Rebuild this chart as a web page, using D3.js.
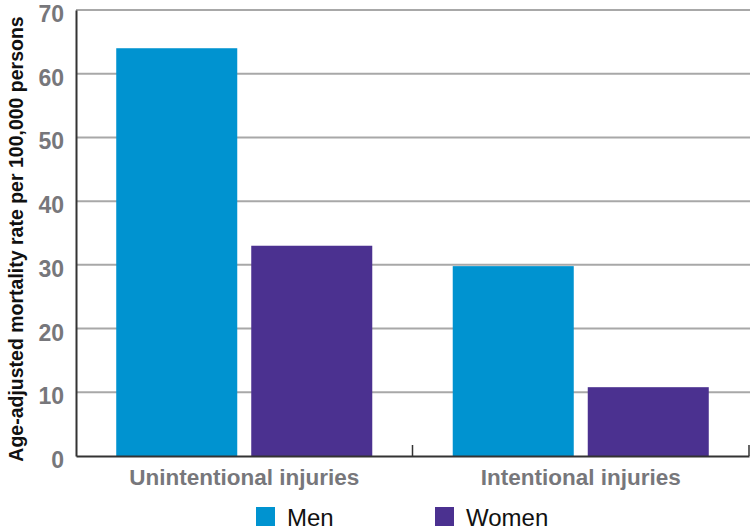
<!DOCTYPE html>
<html><head><meta charset="utf-8">
<script src="https://cdn.jsdelivr.net/npm/d3@7"></script>
<style>body{margin:0;background:#fff}svg{display:block}</style>
</head><body>
<script>
const categories = ["Unintentional injuries", "Intentional injuries"];
const seriesNames = ["Men", "Women"];
const men = [64, 29.8];
const women = [33, 10.8];
const yTicks = [0, 10, 20, 30, 40, 50, 60, 70];
const colors = ["#0093d0", "#4b3190"];

const W = 750, H = 530;
const m = {left: 76, right: 1, top: 10, bottom: 74};
const svg = d3.select("body").append("svg").attr("width", W).attr("height", H);

const x0 = d3.scaleBand().domain(categories).range([m.left, W - m.right]).paddingInner(0).paddingOuter(0);
const x1 = d3.scaleBand().domain(seriesNames).range([0, x0.bandwidth()]).paddingInner(0.1037).paddingOuter(0.298);
const y = d3.scaleLinear().domain([0, 70]).range([H - m.bottom, m.top]);

// gridlines
svg.append("g").selectAll("line").data(yTicks.filter(d => d > 0)).join("line")
  .attr("x1", m.left).attr("x2", W).attr("y1", d => y(d)).attr("y2", d => y(d))
  .attr("stroke", "#a8a8a8").attr("stroke-width", 2);

// bars
const data = categories.map((c, i) => ({c, vals: [men[i], women[i]]}));
const g = svg.append("g").selectAll("g").data(data).join("g")
  .attr("transform", d => `translate(${x0(d.c)},0)`);
g.selectAll("rect").data(d => d.vals.map((v, j) => ({s: seriesNames[j], v, j}))).join("rect")
  .attr("x", d => x1(d.s)).attr("width", x1.bandwidth())
  .attr("y", d => y(d.v)).attr("height", d => y(0) - y(d.v))
  .attr("fill", d => colors[d.j]);

// y axis
const ya = svg.append("g").attr("transform", `translate(${m.left},0)`)
  .call(d3.axisLeft(y).tickValues(yTicks).tickSize(0).tickPadding(12));
ya.select(".domain").attr("stroke", "#333").attr("stroke-width", 2);
ya.selectAll("text").attr("font-family", "Liberation Sans, Arial, sans-serif")
  .attr("font-weight", "bold").attr("font-size", 23).attr("fill", "#77777b").attr("dy", "0.5em");

// x axis
const xa = svg.append("g").attr("transform", `translate(0,${y(0)})`)
  .call(d3.axisBottom(x0).tickSize(0).tickPadding(11));
xa.select(".domain").attr("stroke", "#333").attr("stroke-width", 2);
xa.selectAll("text").attr("font-family", "Liberation Sans, Arial, sans-serif")
  .attr("font-weight", "bold").attr("font-size", 22.5).attr("fill", "#77777b").attr("dy", "0.78em");
// separator ticks
svg.append("g").selectAll("line").data([x0(categories[1]), W - 1]).join("line")
  .attr("x1", d => d).attr("x2", d => d).attr("y1", y(0) - 11).attr("y2", y(0))
  .attr("stroke", "#333").attr("stroke-width", 1.5);

// y title
svg.append("text").attr("transform", `translate(23,${(y(0) + y(70)) / 2 + 6}) rotate(-90)`)
  .attr("text-anchor", "middle").attr("font-family", "Liberation Sans, Arial, sans-serif")
  .attr("font-weight", "bold").attr("font-size", 19.5).attr("fill", "#111")
  .text("Age-adjusted mortality rate per 100,000 persons");

// legend
const legX = [256, 435];
const lg = svg.append("g").selectAll("g").data(seriesNames).join("g")
  .attr("transform", (d, i) => `translate(${legX[i]},507)`);
lg.append("rect").attr("width", 19).attr("height", 19).attr("fill", (d, i) => colors[i]);
lg.append("text").attr("x", 31).attr("y", 19).attr("font-family", "Liberation Sans, Arial, sans-serif")
  .attr("font-size", 24).attr("fill", "#111").text(d => d);
</script>
</body></html>
